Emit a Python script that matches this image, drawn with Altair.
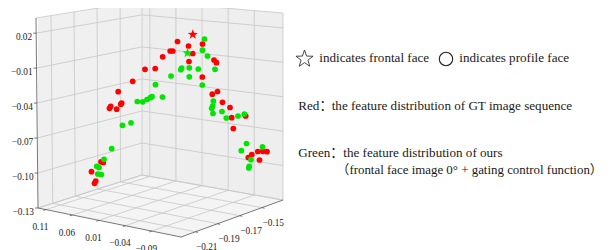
import math
import altair as alt
import pandas as pd

# ---------------- data (projected screen positions) ----------------
red_x = [177.5, 188.5, 202.5, 170.2, 172.8, 162.7, 192.7, 189.0, 214.0, 216.5,
         145.0, 155.2, 202.3, 132.7, 118.2, 212.3, 217.5, 121.7, 120.8, 110.7,
         109.5, 116.7, 222.5, 230.0, 231.7, 245.7, 233.3, 101.0, 103.3, 91.5,
         95.7, 94.5, 248.3, 251.8, 257.8, 262.8, 267.0, 259.5]
red_y = [41.5, 46.0, 44.0, 51.0, 51.0, 56.8, 53.5, 61.5, 60.0, 62.7,
         69.3, 68.5, 77.0, 81.3, 91.7, 94.2, 91.5, 103.0, 104.2, 106.3,
         108.3, 109.2, 102.3, 107.5, 117.7, 116.0, 128.5, 161.8, 162.5, 171.7,
         181.0, 183.3, 157.5, 154.5, 151.5, 151.3, 151.7, 160.0]
green_x = [204.5, 202.5, 207.5, 181.7, 180.8, 189.3, 198.3, 215.0, 171.0, 189.3,
           202.3, 155.5, 162.5, 137.3, 142.7, 147.0, 150.3, 152.0, 131.0, 122.5,
           213.3, 212.7, 211.7, 213.0, 222.0, 226.3, 238.0, 244.3, 111.7, 104.0,
           96.7, 99.0, 97.8, 101.3, 246.5, 241.3, 262.5, 251.0, 249.2, 248.8]
green_y = [39.0, 50.2, 56.0, 68.0, 69.7, 67.8, 69.0, 69.3, 76.0, 76.8,
           85.0, 84.7, 97.0, 101.5, 101.8, 99.5, 97.7, 96.7, 122.8, 125.3,
           101.0, 106.0, 108.3, 113.5, 111.5, 118.0, 116.0, 114.0, 148.7, 159.3,
           166.3, 167.5, 174.0, 174.5, 143.5, 150.7, 146.8, 159.7, 166.3, 168.0]
star_x = [192.8, 187.5]
star_y = [34.5, 53.0]
star_series = ["Red", "Green"]

# axis ticks
z_ticks = [0.02, -0.01, -0.04, -0.07, -0.10, -0.13]
z_labels = ["0.02", "\u22120.01", "\u22120.04", "\u22120.07", "\u22120.10", "\u22120.13"]
y_ticks = [0.11, 0.06, 0.01, -0.04, -0.09]
y_labels = ["0.11", "0.06", "0.01", "\u22120.04", "\u22120.09"]
x_ticks = [-0.21, -0.19, -0.17, -0.15]
x_labels = ["\u22120.21", "\u22120.19", "\u22120.17", "\u22120.15"]
X_RANGE = (-0.223, -0.131)
Y_RANGE = (0.125, -0.145)
Z_RANGE = (-0.13, 0.033)

# ---------------- 3D box projection (layout) ----------------
CORNERS = {
    (0, 0, 0): (38, 208), (1, 0, 0): (142, 175), (0, 1, 0): (181, 237), (1, 1, 0): (283, 200),
    (0, 0, 1): (36, 18), (1, 0, 1): (142, 1), (0, 1, 1): (177, 30), (1, 1, 1): (283, 13),
}


def P(u, v, w):
    sx = sy = 0.0
    for (a, b, c), (px, py) in CORNERS.items():
        wt = (u if a else 1 - u) * (v if b else 1 - v) * (w if c else 1 - w)
        sx += wt * px
        sy += wt * py
    return sx, sy


def nu(x):
    return (x - X_RANGE[0]) / (X_RANGE[1] - X_RANGE[0])


def nv(y):
    return (y - Y_RANGE[0]) / (Y_RANGE[1] - Y_RANGE[0])


def nw(z):
    return (z - Z_RANGE[0]) / (Z_RANGE[1] - Z_RANGE[0])


# five-pointed star symbol path in the unit square
_pts = []
for k in range(10):
    r = 1.0 if k % 2 == 0 else 0.40
    ang = math.radians(-90 + 36 * k)
    _pts.append((r * math.cos(ang), r * math.sin(ang)))
STAR = "M" + " L".join(f"{x:.3f},{y:.3f}" for x, y in _pts) + " Z"

W, H = 595, 242
XS = alt.Scale(domain=[8, 8 + W], nice=False, zero=False)
YS = alt.Scale(domain=[8 + H, 8], nice=False, zero=False)


def X(f="x"):
    return alt.X(f, type="quantitative", scale=XS, axis=None)


def Y(f="y"):
    return alt.Y(f, type="quantitative", scale=YS, axis=None)


# panes
def face_area(pts, color):
    df = pd.DataFrame(pts, columns=["x", "y", "y2"])
    return alt.Chart(df).mark_area(color=color, opacity=1, interpolate="linear").encode(
        x=X(), y=Y(), y2="y2:Q")


Lb, Bb, Fb, Rb = P(0, 0, 0), P(1, 0, 0), P(0, 1, 0), P(1, 1, 0)
Lt, Bt, Rt = P(0, 0, 1), P(1, 0, 1), P(1, 1, 1)
left_wall = face_area([(Lb[0], Lt[1], Lb[1]), (Bb[0], Bt[1], Bb[1])], "#f0f0f0")
right_wall = face_area([(Bb[0], Bt[1], Bb[1]), (Rb[0], Rt[1], Rb[1])], "#eeeeee")


def lerp_y(p, q, x):
    t = (x - p[0]) / (q[0] - p[0])
    return p[1] + t * (q[1] - p[1])


floor_pts = [
    (Lb[0], Lb[1], Lb[1]),
    (Bb[0], Bb[1], lerp_y(Lb, Fb, Bb[0])),
    (Fb[0], lerp_y(Bb, Rb, Fb[0]), Fb[1]),
    (Rb[0], Rb[1], Rb[1]),
]
floor = face_area(floor_pts, "#f4f4f4")

# grid lines
segs = []
for xt in x_ticks:
    u = nu(xt)
    segs.append((*P(u, 0, 0), *P(u, 0, 1)))
    segs.append((*P(u, 0, 0), *P(u, 1, 0)))
for zt in z_ticks:
    w = nw(zt)
    segs.append((*P(0, 0, w), *P(1, 0, w)))
    segs.append((*P(1, 0, w), *P(1, 1, w)))
for yt in y_ticks:
    v = nv(yt)
    segs.append((*P(1, v, 0), *P(1, v, 1)))
    segs.append((*P(0, v, 0), *P(1, v, 0)))
# pane edges
segs += [(*Lt, *Bt), (*Bt, *Rt), (*Bb, *Bt), (*Rb, *Rt), (*Lb, *Bb), (*Bb, *Rb)]
grid_df = pd.DataFrame(segs, columns=["x", "y", "x2", "y2"])
grid = alt.Chart(grid_df).mark_rule(color="#c6c6c6", strokeWidth=0.8).encode(
    x=X(), y=Y(), x2="x2:Q", y2="y2:Q")

# axis lines and ticks
ax_segs = [(*Lb, *Lt), (*Lb, *Fb), (*Fb, *Rb)]
for zt in z_ticks:
    px, py = P(0, 0, nw(zt))
    ax_segs.append((px, py, px - 3, py))
for yt in y_ticks:
    px, py = P(0, nv(yt), 0)
    ax_segs.append((px, py, px - 2.6, py + 0.8))
for xt in x_ticks:
    px, py = P(nu(xt), 1, 0)
    ax_segs.append((px, py, px + 2.6, py + 0.6))
axes_df = pd.DataFrame(ax_segs, columns=["x", "y", "x2", "y2"])
axes = alt.Chart(axes_df).mark_rule(color="#555555", strokeWidth=0.8).encode(
    x=X(), y=Y(), x2="x2:Q", y2="y2:Q")

lab_rows = []
for zt, lab in zip(z_ticks, z_labels):
    px, py = P(0, 0, nw(zt))
    lab_rows.append((px - 4, py + 4, lab, "right"))
for yt, lab in zip(y_ticks, y_labels):
    px, py = P(0, nv(yt), 0)
    lab_rows.append((px - 5.5, py + 17.7, lab, "center"))
for xt, lab in zip(x_ticks, x_labels):
    px, py = P(nu(xt), 1, 0)
    lab_rows.append((px + 11.3, py + 15, lab, "center"))
lab_df = pd.DataFrame(lab_rows, columns=["x", "y", "t", "a"])
tick_labels = []
for a in ["right", "center"]:
    tick_labels.append(
        alt.Chart(lab_df[lab_df.a == a]).mark_text(
            font="Liberation Serif", fontSize=9.3, color="#222222", align=a, baseline="middle"
        ).encode(x=X(), y=Y(), text="t:N"))

# points
COLORS = alt.Scale(domain=["Red", "Green"], range=["#ff0000", "#00e600"])
pts = pd.DataFrame({
    "x": red_x + green_x,
    "y": red_y + green_y,
    "s": ["Red"] * len(red_x) + ["Green"] * len(green_x),
})
dots = alt.Chart(pts).mark_point(filled=True, opacity=1, size=33, shape="circle").encode(
    x=X(), y=Y(), color=alt.Color("s:N", scale=COLORS, legend=None))
stars_df = pd.DataFrame({"x": star_x, "y": star_y, "s": star_series})
stars = alt.Chart(stars_df).mark_point(filled=True, opacity=1, size=110, shape=STAR).encode(
    x=X(), y=Y(), color=alt.Color("s:N", scale=COLORS, legend=None))

# legend / annotation text
TXT = dict(font="Liberation Serif, Noto Sans CJK SC", fontSize=13.1, color="#1a1a1a",
           align="left", baseline="alphabetic")
ann_x = [319.3, 459.3, 298.3, 331.7, 298.3, 343.3]
ann_y = [61.7, 61.7, 110.0, 110.0, 156.7, 156.7]
ann_t = ["indicates frontal face", "indicates profile face", "Red\uff1a",
         "the feature distribution of GT image sequence", "Green\uff1a",
         "the feature distribution of ours"]
ann_df = pd.DataFrame({"x": ann_x, "y": ann_y, "t": ann_t})
ann = alt.Chart(ann_df).mark_text(**TXT).encode(x=X(), y=Y(), text="t:N")
ann2_df = pd.DataFrame({"x": [336.5], "y": [174.0],
                        "t": ["\uff08frontal face image 0\u00b0 + gating control function\uff09"]})
ann2 = alt.Chart(ann2_df).mark_text(**{**TXT, "fontSize": 12.9}).encode(x=X(), y=Y(), text="t:N")

icon_df = pd.DataFrame({"x": [304.5, 446.0], "y": [59.0, 59.0], "sh": ["star", "circle"]})
icon_star = alt.Chart(icon_df[icon_df.sh == "star"]).mark_point(
    shape=STAR, size=324, filled=False, color="#333333", strokeWidth=0.9, opacity=1
).encode(x=X(), y=Y())
icon_circle = alt.Chart(icon_df[icon_df.sh == "circle"]).mark_point(
    shape="circle", size=180, filled=False, color="#222222", strokeWidth=1.1, opacity=1
).encode(x=X(), y=Y())

chart = alt.layer(
    left_wall, right_wall, floor, grid, axes, *tick_labels, dots, stars, ann, ann2,
    icon_star, icon_circle
).properties(width=W, height=H, autosize="none", padding=0).configure_view(stroke=None)

chart.save("out.html", embed_options={"renderer": "svg", "actions": False})
